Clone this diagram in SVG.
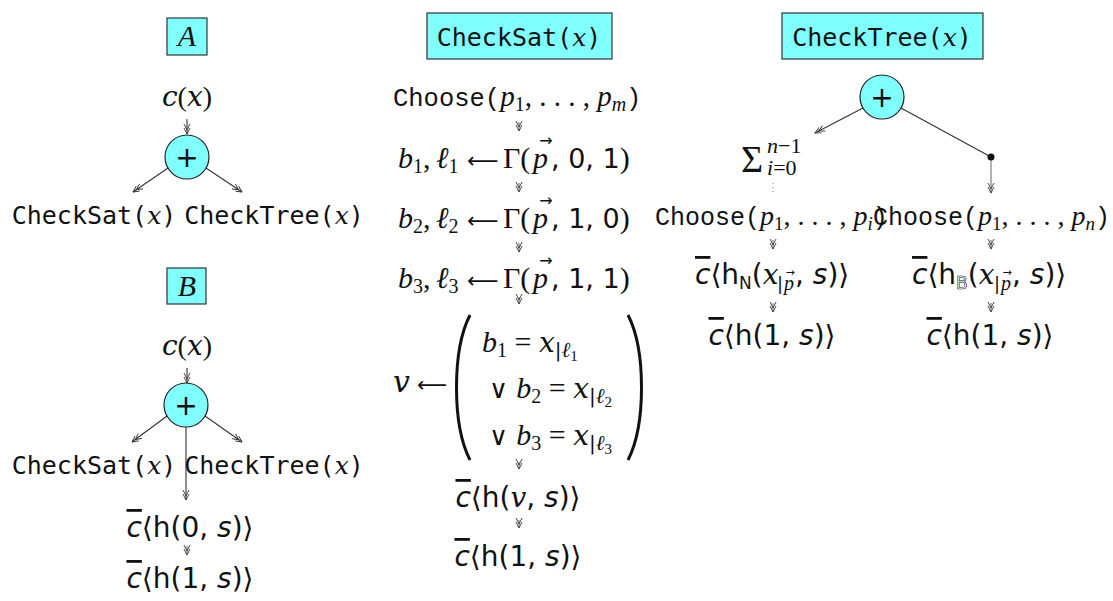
<svg xmlns="http://www.w3.org/2000/svg" width="1113" height="601" viewBox="0 0 1113 601">
<style>
  text { fill: #111; }
  .tt { font-family: "DejaVu Sans Mono", monospace; }
  .ctt { font-family: "Liberation Mono", monospace; }
  .mi { font-family: "DejaVu Serif", serif; font-style: italic; }
  .cm { font-family: "Liberation Serif", serif; font-style: italic; }
  .cr { font-family: "Liberation Serif", "DejaVu Serif", serif; }
  .sa { font-family: "DejaVu Sans", sans-serif; }
  .ob { font-style: oblique; }
  .ov { text-decoration: overline; }
  .bb { fill: #fff; stroke: #111; stroke-width: 0.6; }
  .box { fill: #80ffff; stroke: #333; stroke-width: 1.2; }
  .node { fill: #80ffff; stroke: #222; stroke-width: 1.2; }
  .ln { stroke: #333; stroke-width: 1.1; fill: none; }
  .sh { stroke: #666; stroke-width: 1; fill: none; }
  .mid { text-anchor: middle; }
</style>
<defs>
  <marker id="dh" viewBox="-11 -4 12 8" refX="0" refY="0" markerWidth="12" markerHeight="8" markerUnits="userSpaceOnUse" orient="auto">
    <path d="M-6,-3 L0,0 L-6,3 M-10,-3 L-4,0 L-10,3" fill="none" stroke="#333" stroke-width="0.9"/>
  </marker>
</defs>

<!-- connectors -->
<g id="connectors">
  <line class="ln" x1="187" y1="119" x2="187" y2="134" marker-end="url(#dh)"/>
  <line class="ln" x1="168" y1="168" x2="133" y2="192" marker-end="url(#dh)"/>
  <line class="ln" x1="206" y1="168" x2="242" y2="192" marker-end="url(#dh)"/>
  <line class="ln" x1="187" y1="368" x2="187" y2="383" marker-end="url(#dh)"/>
  <line class="ln" x1="167" y1="416" x2="132" y2="442" marker-end="url(#dh)"/>
  <line class="ln" x1="205" y1="416" x2="242" y2="442" marker-end="url(#dh)"/>
  <line class="ln" x1="186" y1="427" x2="186" y2="500" marker-end="url(#dh)"/>
  <line class="sh" x1="187" y1="546" x2="187" y2="555" marker-end="url(#dh)"/>
  <line class="sh" x1="519" y1="122" x2="519" y2="131" marker-end="url(#dh)"/>
  <line class="sh" x1="519" y1="183" x2="519" y2="192" marker-end="url(#dh)"/>
  <line class="sh" x1="519" y1="243" x2="519" y2="252" marker-end="url(#dh)"/>
  <line class="sh" x1="519" y1="297" x2="519" y2="304" marker-end="url(#dh)"/>
  <line class="sh" x1="519" y1="462" x2="519" y2="469" marker-end="url(#dh)"/>
  <line class="sh" x1="519" y1="520" x2="519" y2="528" marker-end="url(#dh)"/>
  <line class="ln" x1="863" y1="108" x2="815" y2="133" marker-end="url(#dh)"/>
  <line class="ln" x1="901" y1="108" x2="991" y2="157"/>
  <line class="sh" x1="991" y1="157" x2="991" y2="193" marker-end="url(#dh)"/>
  <line x1="773" y1="183" x2="773" y2="193" stroke="#888" stroke-width="1" stroke-dasharray="1,3"/>
  <line class="sh" x1="773" y1="240" x2="773" y2="249" marker-end="url(#dh)"/>
  <line class="sh" x1="991" y1="240" x2="991" y2="249" marker-end="url(#dh)"/>
  <line class="sh" x1="773" y1="303" x2="773" y2="312" marker-end="url(#dh)"/>
  <line class="sh" x1="991" y1="303" x2="991" y2="312" marker-end="url(#dh)"/>
</g>

<!-- Column A -->
<g id="A-title">
  <rect class="box" x="167" y="18" width="40" height="37"/>
  <text class="cm mid" x="187" y="46" font-size="30">A</text>
</g>
<g id="A-cx">
  <text class="mi mid" x="187" y="106" font-size="28">c<tspan class="cr" font-style="normal">(</tspan>x<tspan class="cr" font-style="normal">)</tspan></text>
</g>
<g id="A-plus">
  <circle class="node" cx="187" cy="157" r="22"/>
  <text class="sa mid" x="187" y="167" font-size="28">+</text>
</g>
<g id="A-checksat">
  <text class="mid" x="94" y="224" font-size="25"><tspan class="tt">CheckSat(</tspan><tspan class="mi">x</tspan><tspan class="tt">)</tspan></text>
</g>
<g id="A-checktree">
  <text class="mid" x="274" y="224" font-size="25"><tspan class="tt">CheckTree(</tspan><tspan class="mi">x</tspan><tspan class="tt">)</tspan></text>
</g>

<!-- Column B -->
<g id="B-title">
  <rect class="box" x="167" y="268" width="39" height="36"/>
  <text class="cm mid" x="187" y="296" font-size="30">B</text>
</g>
<g id="B-cx">
  <text class="mi mid" x="187" y="355" font-size="28">c<tspan class="cr" font-style="normal">(</tspan>x<tspan class="cr" font-style="normal">)</tspan></text>
</g>
<g id="B-plus">
  <circle class="node" cx="186" cy="405" r="22"/>
  <text class="sa mid" x="186" y="415" font-size="28">+</text>
</g>
<g id="B-checksat">
  <text class="mid" x="94" y="474" font-size="25"><tspan class="tt">CheckSat(</tspan><tspan class="mi">x</tspan><tspan class="tt">)</tspan></text>
</g>
<g id="B-checktree">
  <text class="mid" x="274" y="474" font-size="25"><tspan class="tt">CheckTree(</tspan><tspan class="mi">x</tspan><tspan class="tt">)</tspan></text>
</g>
<g id="B-h0">
  <text class="sa mid" x="190" y="537" font-size="28"><tspan class="ob ov">c</tspan>⟨h(0, <tspan class="ob">s</tspan>)⟩</text>
</g>
<g id="B-h1">
  <text class="sa mid" x="190" y="588" font-size="28"><tspan class="ob ov">c</tspan>⟨h(1, <tspan class="ob">s</tspan>)⟩</text>
</g>

<!-- Column CheckSat -->
<g id="S-title">
  <rect class="box" x="427" y="13" width="185" height="46"/>
  <text class="mid" x="519" y="46" font-size="25"><tspan class="tt">CheckSat(</tspan><tspan class="mi">x</tspan><tspan class="tt">)</tspan></text>
</g>
<g id="S-choose">
  <text x="393" y="106" font-size="29"><tspan class="ctt" font-size="25.5">Choose(</tspan><tspan class="cm">p</tspan><tspan class="cr" font-size="20" dy="5">1</tspan><tspan class="cr" dy="-5">, . . . , </tspan><tspan class="cm">p</tspan><tspan class="cm" font-size="20" dy="5">m</tspan><tspan class="ctt" font-size="25.5" dy="-5">)</tspan></text>
</g>
<g id="S-g1">
  <text x="398" y="168" font-size="30"><tspan class="cm">b</tspan><tspan class="cr" font-size="20" dy="5">1</tspan><tspan class="cr" dy="-5">,</tspan><tspan class="cm" x="436">ℓ</tspan><tspan class="cr" font-size="20" dy="5">1</tspan><tspan class="sa" font-size="22" dy="-5" x="467">⟵</tspan><tspan class="cr" x="503">Γ(</tspan><tspan class="cm" x="533">p</tspan><tspan class="sa" font-size="27" x="551">, 0, 1</tspan><tspan class="cr">)</tspan></text>
  <text class="sa mid" x="546" y="146" font-size="16">→</text>
</g>
<g id="S-g2">
  <text x="398" y="228" font-size="30"><tspan class="cm">b</tspan><tspan class="cr" font-size="20" dy="5">2</tspan><tspan class="cr" dy="-5">,</tspan><tspan class="cm" x="436">ℓ</tspan><tspan class="cr" font-size="20" dy="5">2</tspan><tspan class="sa" font-size="22" dy="-5" x="467">⟵</tspan><tspan class="cr" x="503">Γ(</tspan><tspan class="cm" x="533">p</tspan><tspan class="sa" font-size="27" x="551">, 1, 0</tspan><tspan class="cr">)</tspan></text>
  <text class="sa mid" x="546" y="206" font-size="16">→</text>
</g>
<g id="S-g3">
  <text x="398" y="288" font-size="30"><tspan class="cm">b</tspan><tspan class="cr" font-size="20" dy="5">3</tspan><tspan class="cr" dy="-5">,</tspan><tspan class="cm" x="436">ℓ</tspan><tspan class="cr" font-size="20" dy="5">3</tspan><tspan class="sa" font-size="22" dy="-5" x="467">⟵</tspan><tspan class="cr" x="503">Γ(</tspan><tspan class="cm" x="533">p</tspan><tspan class="sa" font-size="27" x="551">, 1, 1</tspan><tspan class="cr">)</tspan></text>
  <text class="sa mid" x="546" y="266" font-size="16">→</text>
</g>
<g id="S-v">
  <text x="393" y="392" font-size="30"><tspan class="mi">v</tspan><tspan class="sa" font-size="21" x="417">⟵</tspan></text>
  <path d="M470,315 C452,350 452,425 470,460" fill="none" stroke="#111" stroke-width="3"/>
  <path d="M628,315 C646,350 646,425 628,460" fill="none" stroke="#111" stroke-width="3"/>
  <text x="482" y="352" font-size="30"><tspan class="cm">b</tspan><tspan class="cr" font-size="20" dy="5">1</tspan><tspan class="cr" dy="-5"> = </tspan><tspan class="mi" font-size="28">x</tspan><tspan class="sa" font-size="20" dy="5">|</tspan><tspan class="cm" font-size="21">ℓ</tspan><tspan class="cr" font-size="15" dy="4">1</tspan></text>
  <text x="489" y="398" font-size="30"><tspan class="sa" font-size="26">∨ </tspan><tspan class="cm">b</tspan><tspan class="cr" font-size="20" dy="5">2</tspan><tspan class="cr" dy="-5"> = </tspan><tspan class="mi" font-size="28">x</tspan><tspan class="sa" font-size="20" dy="5">|</tspan><tspan class="cm" font-size="21">ℓ</tspan><tspan class="cr" font-size="15" dy="4">2</tspan></text>
  <text x="489" y="445" font-size="30"><tspan class="sa" font-size="26">∨ </tspan><tspan class="cm">b</tspan><tspan class="cr" font-size="20" dy="5">3</tspan><tspan class="cr" dy="-5"> = </tspan><tspan class="mi" font-size="28">x</tspan><tspan class="sa" font-size="20" dy="5">|</tspan><tspan class="cm" font-size="21">ℓ</tspan><tspan class="cr" font-size="15" dy="4">3</tspan></text>
</g>
<g id="S-hv">
  <text class="sa mid" x="518" y="507" font-size="28"><tspan class="ob ov">c</tspan>⟨h(<tspan class="mi">v</tspan>, <tspan class="ob">s</tspan>)⟩</text>
</g>
<g id="S-h1">
  <text class="sa mid" x="518" y="566" font-size="28"><tspan class="ob ov">c</tspan>⟨h(1, <tspan class="ob">s</tspan>)⟩</text>
</g>

<!-- Column CheckTree -->
<g id="T-title">
  <rect class="box" x="782" y="13" width="201" height="46"/>
  <text class="mid" x="882" y="46" font-size="25"><tspan class="tt">CheckTree(</tspan><tspan class="mi">x</tspan><tspan class="tt">)</tspan></text>
</g>
<g id="T-plus">
  <circle class="node" cx="882" cy="97" r="22"/>
  <text class="sa mid" x="882" y="107" font-size="28">+</text>
</g>
<g id="T-dot">
  <circle cx="991" cy="157" r="3.5" fill="#111"/>
</g>
<g id="T-sum">
  <text x="741" y="172" font-size="38" class="cr">Σ</text>
  <text x="767" y="153" font-size="22"><tspan class="cm">n</tspan><tspan class="cr">−1</tspan></text>
  <text x="767" y="175" font-size="22"><tspan class="cm">i</tspan><tspan class="cr">=0</tspan></text>
</g>
<g id="T-chooseL">
  <text x="655" y="225" font-size="28"><tspan class="ctt" font-size="25">Choose(</tspan><tspan class="cm">p</tspan><tspan class="cr" font-size="19" dy="5">1</tspan><tspan class="cr" dy="-5">, . . . , </tspan><tspan class="cm">p</tspan><tspan class="cm" font-size="19" dy="5">i</tspan><tspan class="ctt" font-size="25" dy="-5">)</tspan></text>
</g>
<g id="T-chooseR">
  <text x="873" y="225" font-size="28"><tspan class="ctt" font-size="25">Choose(</tspan><tspan class="cm">p</tspan><tspan class="cr" font-size="19" dy="5">1</tspan><tspan class="cr" dy="-5">, . . . , </tspan><tspan class="cm">p</tspan><tspan class="cm" font-size="19" dy="5">n</tspan><tspan class="ctt" font-size="25" dy="-5">)</tspan></text>
</g>
<g id="T-hN">
  <text class="sa" x="695" y="284" font-size="28"><tspan class="ob ov">c</tspan>⟨h<tspan font-size="17" dy="5">N</tspan><tspan dy="-5">(</tspan><tspan class="mi">x</tspan><tspan font-size="18" dy="6" x="777">|</tspan><tspan class="cm" font-size="20" x="784">p</tspan><tspan dy="-6" x="795">, </tspan><tspan class="ob">s</tspan>)⟩</text>
  <text class="sa mid" x="790" y="276" font-size="11">→</text>
</g>
<g id="T-hB">
  <text class="sa" x="912" y="284" font-size="28"><tspan class="ob ov">c</tspan>⟨h<tspan class="bb" font-size="17" dy="5">B</tspan><tspan dy="-5">(</tspan><tspan class="mi">x</tspan><tspan font-size="18" dy="6" x="994">|</tspan><tspan class="cm" font-size="20" x="1001">p</tspan><tspan dy="-6" x="1012">, </tspan><tspan class="ob">s</tspan>)⟩</text>
  <text class="sa mid" x="1007" y="276" font-size="11">→</text>
</g>
<g id="T-h1L">
  <text class="sa mid" x="772" y="345" font-size="28"><tspan class="ob ov">c</tspan>⟨h(1, <tspan class="ob">s</tspan>)⟩</text>
</g>
<g id="T-h1R">
  <text class="sa mid" x="990" y="345" font-size="28"><tspan class="ob ov">c</tspan>⟨h(1, <tspan class="ob">s</tspan>)⟩</text>
</g>
</svg>
